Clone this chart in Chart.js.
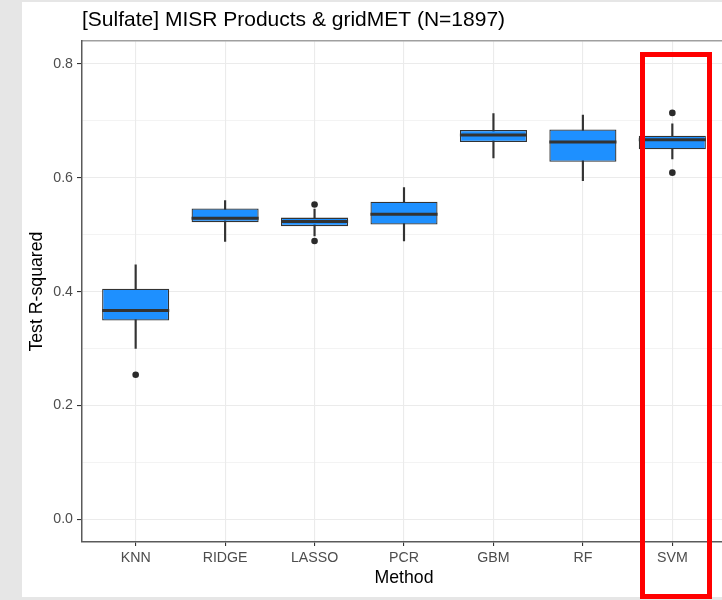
<!DOCTYPE html>
<html>
<head>
<meta charset="utf-8">
<script src="https://cdn.jsdelivr.net/npm/chart.js@4"></script>
<style>
	body { margin: 0; background: #e6e6e6; overflow: hidden; width: 722px; height: 600px; }
	.plot { position: absolute; left: 22px; top: 2px; width: 710px; height: 595px; background: white; }
	.mark { position: absolute; left: 640px; top: 52px; width: 72px; height: 547px; border: 5px solid #ff0000; box-sizing: border-box; }
</style>
</head>
<body>
<div class="plot"><canvas id="box_r2" width="710" height="595"></canvas></div>
<div class="mark"></div>
<script>
// Test R-squared по методам
const methods = ['KNN', 'RIDGE', 'LASSO', 'PCR', 'GBM', 'RF', 'SVM']
const whiskerLow = [0.300, 0.488, 0.498, 0.489, 0.635, 0.595, 0.633]
const q1 = [0.349, 0.522, 0.515, 0.518, 0.663, 0.628, 0.650]
const median = [0.367, 0.529, 0.523, 0.536, 0.675, 0.663, 0.667]
const q3 = [0.405, 0.546, 0.530, 0.558, 0.684, 0.685, 0.674]
const whiskerHigh = [0.447, 0.560, 0.545, 0.583, 0.713, 0.710, 0.695]
const outlierMethod = ['KNN', 'LASSO', 'LASSO', 'SVM', 'SVM']
const outlierValue = [0.254, 0.553, 0.489, 0.714, 0.609]
const yMajor = [0.0, 0.2, 0.4, 0.6, 0.8]
const yMinor = [0.1, 0.3, 0.5, 0.7]

const font = "'Liberation Sans', Arial, sans-serif"
const boxWidth = 0.75

const isMajor = (v) => yMajor.some(m => Math.abs(m - v) < 1e-9)
const halfBox = (c) => {
	const x = c.chart.scales.x
	return x.getPixelForValue(boxWidth / 2) - x.getPixelForValue(0)
}

const ctx = document.getElementById('box_r2').getContext('2d')

const config = {
	type: 'bar',
	data: {
		datasets: [{
			label: 'whisker',
			data: methods.map((m, i) => ({x: i, y: [whiskerLow[i], whiskerHigh[i]]})),
			backgroundColor: '#333333',
			barThickness: 1.5,
			grouped: false,
			order: 3,
			xAxisID: 'x'
		}, {
			label: 'box',
			data: methods.map((m, i) => ({x: i, y: [q1[i], q3[i]]})),
			backgroundColor: '#1E90FF',
			borderColor: '#333333',
			borderWidth: 1.3,
			borderSkipped: false,
			barPercentage: boxWidth,
			categoryPercentage: 1,
			grouped: false,
			order: 2,
			xAxisID: 'x'
		}, {
			type: 'scatter',
			label: 'median',
			data: methods.map((m, i) => ({x: i, y: median[i]})),
			pointStyle: 'line',
			pointRadius: halfBox,
			pointBorderWidth: 3,
			pointBorderColor: '#333333',
			order: 1,
			xAxisID: 'x'
		}, {
			type: 'scatter',
			label: 'outliers',
			data: outlierMethod.map((m, i) => ({x: methods.indexOf(m), y: outlierValue[i]})),
			pointRadius: 3.3,
			pointBackgroundColor: '#2b2b2b',
			pointBorderWidth: 0,
			order: 0,
			xAxisID: 'x'
		}]
	},
	options: {
		responsive: false,
		animation: false,
		events: [],
		layout: { padding: { left: 0, right: 6, top: 0, bottom: 0 } },
		scales: {
			x: {
				type: 'linear',
				position: 'bottom',
				offset: false,
				min: -0.6,
				max: 6.6,
				afterBuildTicks: (scale) => { scale.ticks = methods.map((m, i) => ({value: i})) },
				afterFit: (scale) => { scale.height = 55 },
				grid: { offset: false, color: '#ebebeb', lineWidth: 1.1, tickColor: '#333333', tickLength: 4 },
				border: { color: '#5a5a5a', width: 1.5 },
				ticks: {
					maxRotation: 0,
					autoSkip: false,
					padding: 4,
					color: '#4d4d4d',
					font: { family: font, size: 14.2 },
					callback: (v) => methods[v] ?? ''
				},
				title: {
					display: true,
					text: 'Method',
					color: '#000000',
					font: { family: font, size: 17.7 },
					padding: { top: 0, bottom: 8 }
				}
			},
			xTop: {
				type: 'linear',
				position: 'top',
				offset: false,
				min: -0.6,
				max: 6.6,
				afterFit: (scale) => { scale.height = 0 },
				grid: { display: false, drawTicks: false },
				ticks: { display: false },
				border: { color: '#a0a0a0', width: 1.5 }
			},
			y: {
				type: 'linear',
				min: -0.04,
				max: 0.84,
				afterBuildTicks: (scale) => {
					scale.ticks = [...yMajor, ...yMinor].sort((a, b) => a - b).map(v => ({value: v}))
				},
				afterFit: (scale) => { scale.width = 60 },
				grid: {
					color: '#ebebeb',
					lineWidth: (c) => isMajor(c.tick.value) ? 1.1 : 0.6,
					tickColor: (c) => isMajor(c.tick.value) ? '#333333' : 'rgba(0,0,0,0)',
					tickLength: 5
				},
				border: { color: '#5a5a5a', width: 1.5 },
				ticks: {
					padding: 4,
					color: '#4d4d4d',
					font: { family: font, size: 14.2 },
					callback: (v) => isMajor(v) ? v.toFixed(1) : ''
				},
				title: {
					display: true,
					text: 'Test R-squared',
					color: '#000000',
					font: { family: font, size: 17.7 },
					padding: { top: 4.5, bottom: 0 }
				}
			}
		},
		plugins: {
			legend: { display: false },
			tooltip: { enabled: false },
			title: {
				display: true,
				text: '[Sulfate] MISR Products & gridMET (N=1897)',
				align: 'start',
				fullSize: false,
				color: '#000000',
				font: { family: font, size: 21, weight: 'normal' },
				padding: { top: 6, bottom: 8 }
			}
		}
	}
}

const boxR2 = new Chart(ctx, config)
</script>
</body>
</html>
